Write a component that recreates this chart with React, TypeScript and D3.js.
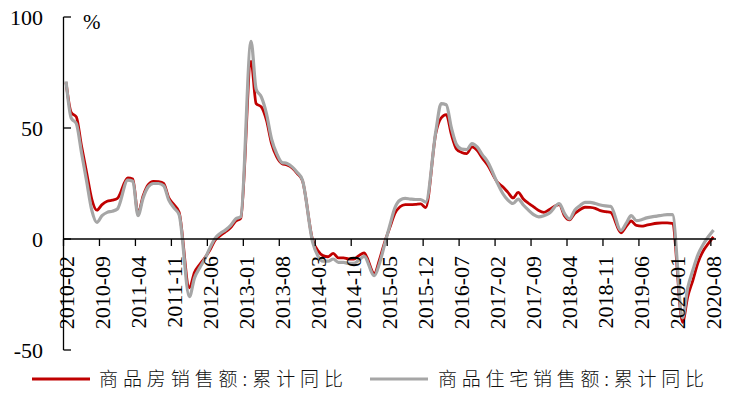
import { useEffect, useRef } from "react"
import * as d3 from "d3"

const W = 734
const H = 401

// months 2010-02 .. 2020-08 (January has no published figure)
const years = d3.range(2010, 2021)
const months: string[] = years.flatMap((y) =>
  d3.range(1, 13).map((m) => `${y}-${String(m).padStart(2, "0")}`)
).filter((m) => m >= "2010-02" && m <= "2020-08")

const tickLabels = [
  "2010-02", "2010-09", "2011-04", "2011-11", "2012-06", "2013-01", "2013-08",
  "2014-03", "2014-10", "2015-05", "2015-12", "2016-07", "2017-02", "2017-09",
  "2018-04", "2018-11", "2019-06", "2020-01", "2020-08",
]

const yTicks = [-50, 0, 50, 100]

// 商品房销售额:累计同比 (%)
const salesAll: (number | null)[] = [
  70.5, 57, 55, 42, 30, 18, 13, 15.5, 17, 17.5, 18.3,
  null, 27.5, 27, 11.5, 19.5, 24.5, 26, 25.8, 25, 18.5, 15.5, 12.1,
  null, -22, -15, -11.5, -8.5, -5, -0.5, 1.5, 3.2, 5, 8, 9.3,
  null, 80, 61, 59.5, 53.5, 43, 37, 34, 33.3, 32, 29.5, 26.3,
  null, -0.5, -5.2, -7.5, -8, -6.5, -8.5, -8.5, -9, -9, -7.5, -6.3,
  null, -15.5, -9.3, -1.5, 5, 11.5, 14.5, 15.5, 15.5, 15.6, 15.8, 14.2,
  null, 48, 54.5, 56, 47, 40.5, 39, 38.5, 41.5, 40, 36.5, 33.5,
  null, 25.5, 23.5, 21, 18.5, 21, 18, 16.1, 14.5, 12.8, 12, 13.2,
  null, 15.5, 10.5, 8.6, 11.5, 13.2, 14.3, 14.2, 13.8, 12.8, 12.3, 12,
  null, 2.8, 5.6, 8.1, 6.1, 5.8, 6.2, 6.7, 7.1, 7.3, 7.3, 7,
  null, -37.5, -26, -18.6, -10.6, -5.4, -2.1, 1,
]

// 商品住宅销售额:累计同比 (%)
const salesHousing: (number | null)[] = [
  71, 54.5, 52, 39, 26, 13, 7.5, 10.5, 12, 12.5, 13.5,
  null, 26.5, 26, 10.5, 18.5, 23.5, 25, 25, 24, 17.5, 14, 11,
  null, -26, -17.5, -13, -9, -4, 0.3, 2.5, 4, 6, 9, 10,
  null, 89, 67.5, 64, 56.5, 45, 38.5, 34.5, 34, 32.5, 30, 26.6,
  null, -1.5, -7.5, -10, -10, -9, -10.5, -10.5, -11, -11, -9.5, -7.8,
  null, -16.5, -11, -2.5, 6, 14, 17.5, 18.3, 18, 17.8, 17.8, 16.6,
  null, 49, 61, 60.5, 50, 42.5, 40.5, 40.3, 43, 41.5, 38, 35,
  null, 25, 20.5, 17.5, 16, 18, 15.3, 13, 11, 10, 10.5, 11.5,
  null, 16, 11.5, 9, 13, 15, 16.5, 16.5, 16, 15.3, 14.9, 14.7,
  null, 3.8, 7, 10.5, 8.3, 8.7, 9.5, 10, 10.3, 10.7, 11, 11,
  null, -35.5, -22, -14, -7, -2.5, 1, 4,
]

const seriesNames = ["商品房销售额:累计同比", "商品住宅销售额:累计同比"]
const seriesColors = ["#C00000", "#A6A6A6"]

export default function App() {
  const svgRef = useRef<SVGSVGElement>(null)

  useEffect(() => {
    if (!svgRef.current) return
    document.body.style.margin = "0"

    const svg = d3.select(svgRef.current)
    svg.selectAll("*").remove()

    const x = d3.scaleBand<string>().domain(months).range([63.5, 716]).padding(0)
    const y = d3.scaleLinear().domain([-50, 100]).range([350, 17])
    const cx = (m: string) => (x(m) ?? 0) + x.bandwidth() / 2

    const serif = "Liberation Serif"
    const cjk = "Noto Sans CJK SC"

    // lines (grey drawn last, on top)
    const line = d3
      .line<{ m: string; v: number }>()
      .x((d) => cx(d.m))
      .y((d) => y(d.v))
      .curve(d3.curveMonotoneX)

    ;[salesAll, salesHousing].forEach((vals, si) => {
      const pts = months
        .map((m, i) => ({ m, v: vals[i] as number }))
        .filter((d) => d.v !== null && d.v !== undefined)
      svg
        .append("path")
        .attr("d", line(pts) as string)
        .attr("fill", "none")
        .attr("stroke", seriesColors[si])
        .attr("stroke-width", si === 0 ? 2.8 : 3.2)
        .attr("stroke-linejoin", "round")
    })

    // y axis
    const yAxis = svg.append("g")
    yAxis
      .append("line")
      .attr("x1", 63.5).attr("x2", 63.5)
      .attr("y1", y(100)).attr("y2", y(-50))
      .attr("stroke", "#000").attr("stroke-width", 1.3)
    yTicks.forEach((t) => {
      yAxis
        .append("line")
        .attr("x1", 63.5).attr("x2", 71)
        .attr("y1", y(t)).attr("y2", y(t))
        .attr("stroke", "#000").attr("stroke-width", 1.3)
      yAxis
        .append("text")
        .attr("x", 43)
        .attr("y", y(t))
        .attr("dy", "0.36em")
        .attr("text-anchor", "end")
        .attr("font-family", serif)
        .attr("font-size", 22)
        .attr("fill", "#000")
        .text(String(t))
    })
    svg
      .append("text")
      .attr("x", 83)
      .attr("y", 29)
      .attr("font-family", serif)
      .attr("font-size", 21)
      .attr("fill", "#000")
      .text("%")

    // x axis at zero
    const xAxis = svg.append("g")
    xAxis
      .append("line")
      .attr("x1", 63.5).attr("x2", 716)
      .attr("y1", y(0)).attr("y2", y(0))
      .attr("stroke", "#000").attr("stroke-width", 1.3)
    tickLabels.forEach((lab) => {
      const bx = x(lab) ?? 0
      xAxis
        .append("line")
        .attr("x1", bx).attr("x2", bx)
        .attr("y1", y(0)).attr("y2", y(0) + 7)
        .attr("stroke", "#000").attr("stroke-width", 1.3)
      xAxis
        .append("text")
        .attr("transform", `translate(${cx(lab)}, ${y(0) + 17}) rotate(-90)`)
        .attr("dy", "0.35em")
        .attr("text-anchor", "end")
        .attr("font-family", serif)
        .attr("font-size", 22)
        .attr("fill", "#000")
        .text(lab)
    })

    // legend
    const legendItems = [
      { x1: 32, x2: 90, tx: 99, tw: 244 },
      { x1: 370, x2: 428, tx: 438, tw: 266 },
    ]
    legendItems.forEach((it, i) => {
      svg
        .append("line")
        .attr("x1", it.x1).attr("x2", it.x2)
        .attr("y1", 379).attr("y2", 379)
        .attr("stroke", seriesColors[i])
        .attr("stroke-width", 3.2)
      svg
        .append("text")
        .attr("x", it.tx)
        .attr("y", 386)
        .attr("textLength", it.tw)
        .attr("lengthAdjust", "spacing")
        .attr("font-family", cjk)
        .attr("font-size", 19)
        .attr("font-weight", 300)
        .attr("fill", "#111")
        .text(seriesNames[i])
    })
  }, [])

  return <svg ref={svgRef} width={W} height={H} style={{ display: "block", background: "#fff" }}></svg>
}
